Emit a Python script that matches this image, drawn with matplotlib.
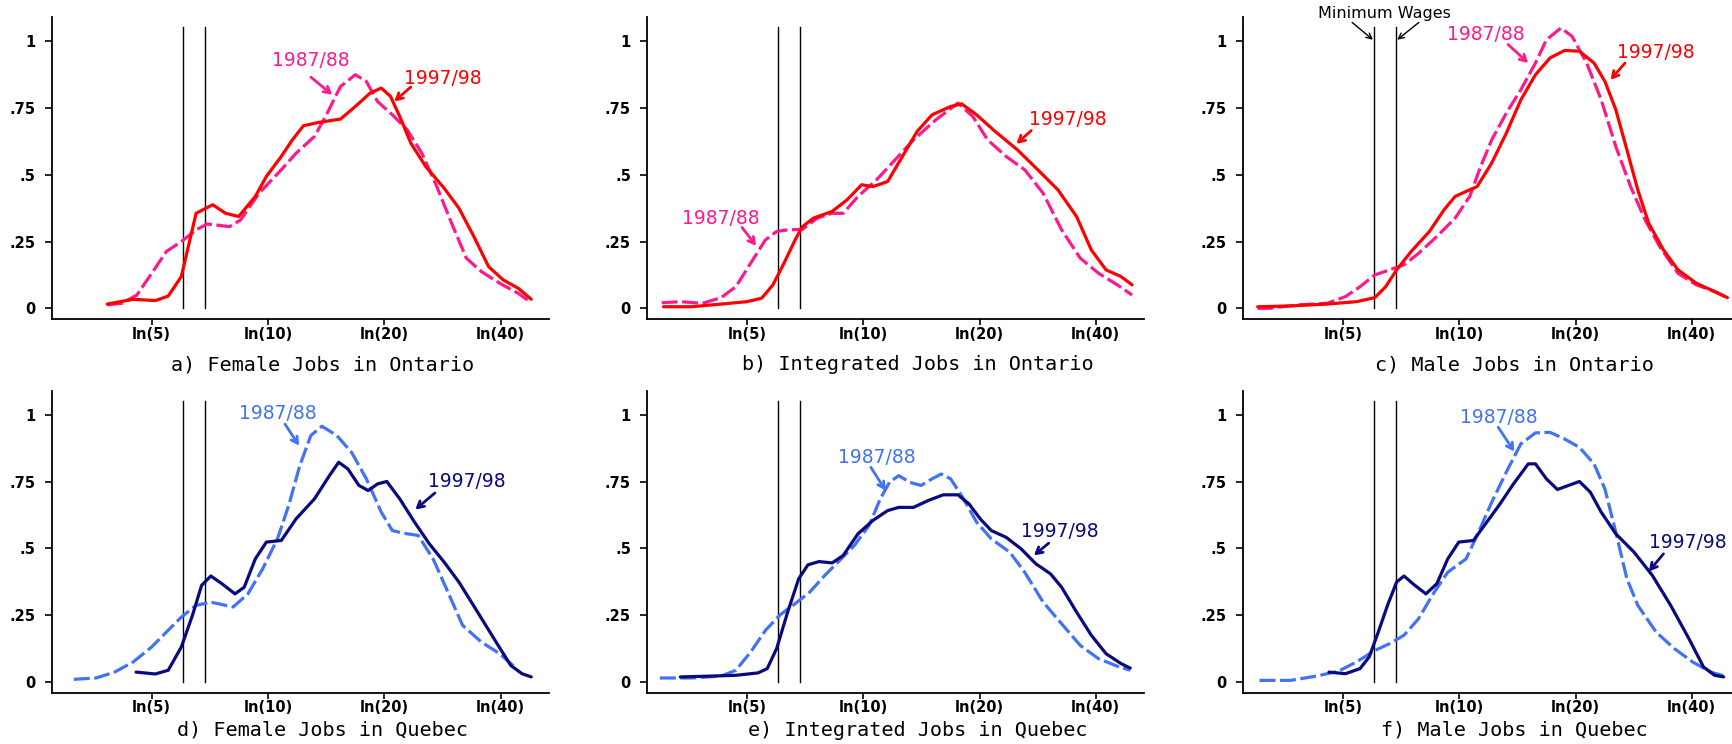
import numpy as np
import matplotlib
matplotlib.use('Agg')
import matplotlib.pyplot as plt

# x = log hourly wage, y = density
# a) Female jobs, Ontario
a_x97 = [1.344, 1.499, 1.631, 1.708, 1.786, 1.874, 1.973, 2.050, 2.128, 2.227, 2.293, 2.382, 2.448, 2.514,
         2.602, 2.735, 2.823, 2.911, 2.978, 3.033, 3.088, 3.154, 3.243, 3.353, 3.441, 3.530, 3.618, 3.706,
         3.795, 3.872]
a_y97 = [0.016, 0.034, 0.029, 0.046, 0.119, 0.356, 0.388, 0.356, 0.344, 0.419, 0.494, 0.569, 0.631, 0.684,
         0.696, 0.709, 0.756, 0.806, 0.825, 0.794, 0.719, 0.619, 0.531, 0.450, 0.375, 0.269, 0.156, 0.106,
         0.075, 0.034]
a_x88 = [1.344, 1.432, 1.521, 1.609, 1.697, 1.786, 1.874, 1.940, 2.073, 2.139, 2.249, 2.382, 2.470, 2.580,
         2.646, 2.735, 2.823, 2.889, 2.955, 3.044, 3.132, 3.220, 3.309, 3.397, 3.485, 3.574, 3.684, 3.795,
         3.850]
a_y88 = [0.013, 0.019, 0.050, 0.131, 0.213, 0.250, 0.294, 0.316, 0.306, 0.331, 0.431, 0.519, 0.581, 0.644,
         0.719, 0.831, 0.875, 0.850, 0.775, 0.725, 0.669, 0.581, 0.456, 0.319, 0.188, 0.138, 0.094, 0.056,
         0.031]

# b) Integrated jobs, Ontario
b_x97 = [1.112, 1.278, 1.455, 1.609, 1.697, 1.764, 1.830, 1.896, 1.940, 2.006, 2.117, 2.205, 2.293, 2.360,
         2.448, 2.536, 2.624, 2.713, 2.823, 2.889, 2.978, 3.088, 3.221, 3.353, 3.463, 3.574, 3.662, 3.750,
         3.839, 3.905]
b_y97 = [0.006, 0.006, 0.016, 0.025, 0.038, 0.088, 0.169, 0.256, 0.306, 0.338, 0.363, 0.406, 0.463, 0.456,
         0.475, 0.569, 0.663, 0.725, 0.756, 0.766, 0.725, 0.663, 0.594, 0.513, 0.444, 0.344, 0.219, 0.144,
         0.119, 0.088]
b_x88 = [1.101, 1.212, 1.344, 1.455, 1.543, 1.631, 1.719, 1.786, 1.852, 1.940, 2.028, 2.117, 2.183, 2.271,
         2.381, 2.492, 2.602, 2.735, 2.867, 2.955, 3.044, 3.154, 3.265, 3.375, 3.485, 3.596, 3.706, 3.817,
         3.905]
b_y88 = [0.021, 0.025, 0.019, 0.040, 0.081, 0.169, 0.256, 0.288, 0.294, 0.296, 0.338, 0.356, 0.356, 0.419,
         0.481, 0.556, 0.631, 0.706, 0.769, 0.719, 0.631, 0.569, 0.519, 0.431, 0.294, 0.188, 0.131, 0.088,
         0.050]

# c) Male jobs, Ontario
c_x97 = [1.101, 1.297, 1.515, 1.690, 1.799, 1.864, 1.929, 2.016, 2.125, 2.212, 2.278, 2.343, 2.409, 2.496,
         2.583, 2.670, 2.757, 2.844, 2.931, 3.019, 3.106, 3.171, 3.236, 3.302, 3.367, 3.432, 3.520, 3.607,
         3.716, 3.825, 3.901]
c_y97 = [0.006, 0.009, 0.016, 0.025, 0.040, 0.081, 0.144, 0.213, 0.288, 0.369, 0.419, 0.438, 0.456, 0.544,
         0.656, 0.781, 0.875, 0.938, 0.966, 0.963, 0.919, 0.850, 0.744, 0.594, 0.444, 0.319, 0.219, 0.144,
         0.094, 0.063, 0.040]
c_x88 = [1.101, 1.167, 1.341, 1.515, 1.624, 1.711, 1.799, 1.886, 1.973, 2.060, 2.169, 2.278, 2.365, 2.430,
         2.496, 2.583, 2.670, 2.757, 2.822, 2.909, 2.975, 3.062, 3.149, 3.236, 3.324, 3.411, 3.498, 3.607,
         3.716, 3.825, 3.901]
c_y88 = [0.000, 0.000, 0.013, 0.019, 0.044, 0.081, 0.125, 0.144, 0.163, 0.206, 0.269, 0.338, 0.419, 0.531,
         0.631, 0.731, 0.819, 0.919, 1.006, 1.050, 1.019, 0.919, 0.781, 0.606, 0.456, 0.331, 0.231, 0.131,
         0.088, 0.063, 0.040]

# d) Female jobs, Quebec
d_x97 = [1.516, 1.631, 1.708, 1.786, 1.852, 1.907, 1.962, 2.028, 2.106, 2.161, 2.227, 2.293, 2.382, 2.470,
         2.580, 2.669, 2.724, 2.779, 2.845, 2.900, 2.956, 3.011, 3.088, 3.176, 3.265, 3.353, 3.441, 3.552,
         3.662, 3.750, 3.817, 3.872]
d_y97 = [0.037, 0.030, 0.044, 0.131, 0.249, 0.362, 0.397, 0.368, 0.330, 0.355, 0.461, 0.524, 0.530, 0.611,
         0.686, 0.773, 0.823, 0.798, 0.736, 0.717, 0.742, 0.751, 0.686, 0.599, 0.517, 0.449, 0.374, 0.262,
         0.150, 0.062, 0.031, 0.019]
d_x88 = [1.145, 1.278, 1.388, 1.499, 1.609, 1.697, 1.786, 1.874, 1.962, 2.095, 2.183, 2.271, 2.359, 2.426,
         2.492, 2.558, 2.624, 2.713, 2.801, 2.889, 2.978, 3.044, 3.132, 3.198, 3.287, 3.375, 3.463, 3.574,
         3.684, 3.784]
d_y88 = [0.010, 0.015, 0.037, 0.075, 0.131, 0.187, 0.243, 0.287, 0.299, 0.281, 0.330, 0.424, 0.536, 0.661,
         0.810, 0.923, 0.958, 0.923, 0.860, 0.761, 0.636, 0.567, 0.555, 0.549, 0.461, 0.337, 0.212, 0.150,
         0.106, 0.050]

# e) Integrated jobs, Quebec
e_x97 = [1.212, 1.388, 1.543, 1.675, 1.730, 1.786, 1.852, 1.918, 1.973, 2.039, 2.117, 2.183, 2.271, 2.360,
         2.448, 2.514, 2.602, 2.691, 2.779, 2.867, 2.933, 3.000, 3.066, 3.154, 3.243, 3.331, 3.419, 3.485,
         3.574, 3.662, 3.750, 3.839, 3.894]
e_y97 = [0.019, 0.022, 0.025, 0.034, 0.050, 0.125, 0.262, 0.387, 0.439, 0.451, 0.446, 0.474, 0.555, 0.605,
         0.642, 0.654, 0.654, 0.680, 0.701, 0.701, 0.667, 0.611, 0.567, 0.542, 0.499, 0.443, 0.405, 0.355,
         0.262, 0.175, 0.106, 0.069, 0.052]
e_x88 = [1.090, 1.278, 1.455, 1.543, 1.631, 1.719, 1.808, 1.896, 1.984, 2.073, 2.161, 2.249, 2.337, 2.404,
         2.459, 2.514, 2.580, 2.647, 2.713, 2.768, 2.823, 2.889, 2.978, 3.066, 3.176, 3.265, 3.375, 3.485,
         3.596, 3.706, 3.817, 3.894]
e_y88 = [0.015, 0.015, 0.022, 0.044, 0.112, 0.193, 0.252, 0.293, 0.337, 0.399, 0.455, 0.511, 0.586, 0.686,
         0.748, 0.773, 0.748, 0.736, 0.761, 0.779, 0.761, 0.698, 0.599, 0.536, 0.486, 0.411, 0.299, 0.218,
         0.137, 0.087, 0.059, 0.044]

# f) Male jobs, Quebec
f_x97 = [1.526, 1.624, 1.711, 1.766, 1.820, 1.875, 1.929, 1.973, 2.038, 2.104, 2.169, 2.234, 2.300, 2.387,
         2.452, 2.539, 2.626, 2.714, 2.757, 2.822, 2.888, 2.953, 3.019, 3.084, 3.149, 3.236, 3.345, 3.454,
         3.563, 3.672, 3.759, 3.825, 3.879]
f_y97 = [0.037, 0.031, 0.050, 0.094, 0.187, 0.287, 0.374, 0.397, 0.362, 0.330, 0.368, 0.461, 0.524, 0.530,
         0.586, 0.661, 0.742, 0.817, 0.817, 0.761, 0.721, 0.736, 0.751, 0.711, 0.636, 0.555, 0.486, 0.399,
         0.287, 0.162, 0.056, 0.025, 0.019]
f_x88 = [1.112, 1.297, 1.450, 1.581, 1.690, 1.799, 1.886, 1.973, 2.060, 2.147, 2.234, 2.343, 2.409, 2.496,
         2.583, 2.670, 2.757, 2.844, 2.931, 3.019, 3.106, 3.171, 3.236, 3.302, 3.367, 3.476, 3.585, 3.694,
         3.803, 3.901]
f_y88 = [0.006, 0.006, 0.022, 0.040, 0.075, 0.118, 0.143, 0.175, 0.237, 0.330, 0.411, 0.461, 0.549, 0.673,
         0.786, 0.892, 0.933, 0.935, 0.910, 0.879, 0.817, 0.723, 0.561, 0.387, 0.287, 0.187, 0.125, 0.075,
         0.037, 0.019]

titles = ['a) Female Jobs in Ontario', 'b) Integrated Jobs in Ontario', 'c) Male Jobs in Ontario',
          'd) Female Jobs in Quebec', 'e) Integrated Jobs in Quebec', 'f) Male Jobs in Quebec']
min_wages = [6.03, 6.85]          # dollars/hour, the two vertical lines
wage_ticks = [5, 10, 20, 40]
y_ticks = [0, 0.25, 0.5, 0.75, 1]
y_ticklabels = ['0', '.25', '.5', '.75', '1']

series = [(a_x88, a_y88, a_x97, a_y97), (b_x88, b_y88, b_x97, b_y97), (c_x88, c_y88, c_x97, c_y97),
          (d_x88, d_y88, d_x97, d_y97), (e_x88, e_y88, e_x97, e_y97), (f_x88, f_y88, f_x97, f_y97)]

# label placement per panel: (text xy, arrow tail, arrow head) for 1987/88 then 1997/98
label_pos = [
    [((2.558, 0.927), (2.558, 0.866), (2.686, 0.800)), ((3.342, 0.860), (3.154, 0.829), (3.055, 0.775))],
    [((1.454, 0.338), (1.580, 0.303), (1.664, 0.234)), ((3.525, 0.706), (3.304, 0.666), (3.216, 0.616))],
    [((2.463, 1.025), (2.594, 0.988), (2.714, 0.919)), ((3.476, 0.960), (3.291, 0.919), (3.204, 0.856))],
    [((2.360, 1.004), (2.404, 0.966), (2.488, 0.885)), ((3.490, 0.752), (3.298, 0.708), (3.181, 0.646))],
    [((2.382, 0.839), (2.348, 0.804), (2.436, 0.717)), ((3.474, 0.564), (3.408, 0.520), (3.320, 0.474))],
    [((2.539, 0.989), (2.535, 0.954), (2.631, 0.863)), ((3.666, 0.521), (3.520, 0.480), (3.433, 0.414))],
]

ontario_cols = ('#FF1A8C', '#FF0000')
quebec_cols = ('#4272F5', '#0A0A80')

fig = plt.figure(figsize=(17.33, 7.44), dpi=100)
lefts = [0.0300, 0.3735, 0.7174]
bottoms = [0.5712, 0.0690]
w, h = 0.2868, 0.4055

for i in range(6):
    row, col = divmod(i, 3)
    ax = fig.add_axes([lefts[col], bottoms[row], w, h])
    c88, c97 = ontario_cols if row == 0 else quebec_cols
    x88, y88, x97, y97 = series[i]

    for mw in min_wages:
        ax.plot([np.log(mw), np.log(mw)], [0, 1.053], color='black', lw=1.0, zorder=2)

    ax.plot(x88, y88, color=c88, lw=2.3, dashes=(5, 1.4), dash_capstyle='butt',
            solid_joinstyle='round', zorder=3)
    ax.plot(x97, y97, color=c97, lw=2.3, solid_capstyle='round', solid_joinstyle='round', zorder=4)

    for (txt_xy, tail, head), lab, colr in zip(label_pos[i], ['1987/88', '1997/98'], [c88, c97]):
        ax.text(txt_xy[0], txt_xy[1], lab, color=colr, fontsize=13.5, ha='center', va='center',
                family='DejaVu Sans', clip_on=False)
        ax.annotate('', xy=head, xytext=tail,
                    arrowprops=dict(arrowstyle='->,head_length=0.45,head_width=0.25', color=colr, lw=2.0,
                                    shrinkA=0, shrinkB=0), annotation_clip=False)

    if i == 2:
        ax.text(1.858, 1.103, 'Minimum Wages', fontsize=11.5, ha='center', va='center',
                family='DejaVu Sans', clip_on=False)
        ax.annotate('', xy=(1.788, 1.006), xytext=(1.664, 1.071),
                    arrowprops=dict(arrowstyle='->', color='black', lw=1.0, shrinkA=0, shrinkB=0),
                    annotation_clip=False)
        ax.annotate('', xy=(1.933, 1.006), xytext=(2.062, 1.071),
                    arrowprops=dict(arrowstyle='->', color='black', lw=1.0, shrinkA=0, shrinkB=0),
                    annotation_clip=False)

    ax.set_xlim(1.015, 3.978)
    ax.set_ylim(-0.04, 1.09)
    ax.set_xticks(np.log(wage_ticks))
    ax.set_xticklabels(['ln(%d)' % v for v in wage_ticks], fontsize=10.5, fontweight='bold')
    ax.set_yticks(y_ticks)
    ax.set_yticklabels(y_ticklabels, fontsize=10.5, fontweight='bold')
    ax.tick_params(axis='x', length=4.5, width=1.2, pad=1.0)
    ax.tick_params(axis='y', length=4.8, width=1.2, pad=7)
    for s in ['top', 'right']:
        ax.spines[s].set_visible(False)
    for s in ['left', 'bottom']:
        ax.spines[s].set_linewidth(1.3)
    ty = -0.152 if row == 0 else -0.125
    ax.text(0.545, ty, titles[i], transform=ax.transAxes, ha='center', va='center',
            fontsize=14.5, family='DejaVu Sans Mono')

fig.savefig('out.png', dpi=100)
